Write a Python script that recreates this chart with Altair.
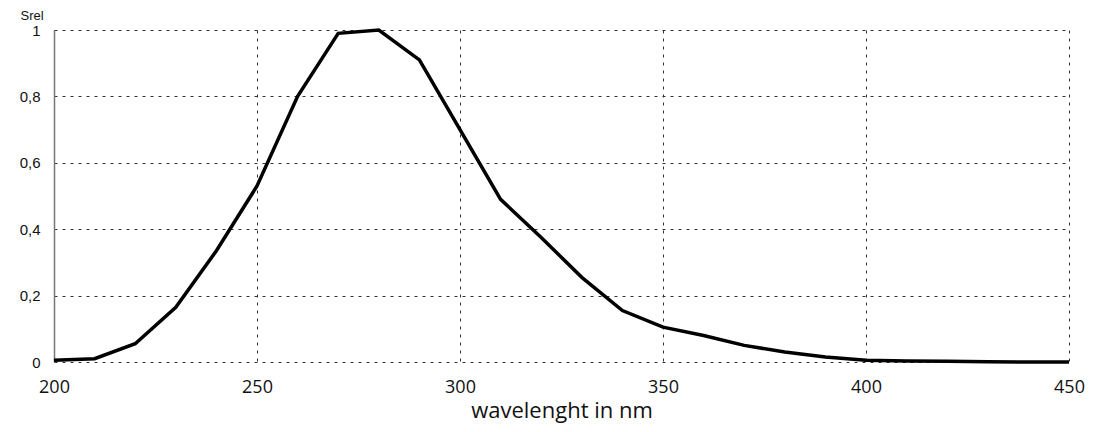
import altair as alt
import pandas as pd

wavelength = [200, 210, 220, 230, 240, 250, 260, 270, 280, 290, 300, 310, 320,
              330, 340, 350, 360, 370, 380, 390, 400, 410, 420, 430, 440, 450]
srel = [0.005, 0.01, 0.055, 0.165, 0.335, 0.53, 0.8, 0.99, 1.0, 0.91, 0.70,
        0.49, 0.375, 0.255, 0.155, 0.105, 0.08, 0.05, 0.03, 0.015, 0.005,
        0.003, 0.002, 0.001, 0.0, 0.0]
x_ticks = [200, 250, 300, 350, 400, 450]
y_ticks = [0, 0.2, 0.4, 0.6, 0.8, 1.0]

df = pd.DataFrame({"wavelength": wavelength, "srel": srel})

chart = alt.Chart(df).mark_line(color="black", strokeWidth=3.5, strokeJoin="miter").encode(
    x=alt.X("wavelength:Q",
            scale=alt.Scale(domain=[200, 450], nice=False, zero=False),
            axis=alt.Axis(values=x_ticks, title="wavelenght in nm", labelFlush=False,
                          labelFont="Open Sans", labelFontSize=18, labelColor="#111",
                          labelPadding=16, titleFont="Open Sans", titleFontSize=22,
                          titleFontWeight="normal", titleColor="#111", titlePadding=4,
                          domain=False, ticks=False,
                          grid=True, gridColor="#333", gridDash=[3, 5], gridWidth=1)),
    y=alt.Y("srel:Q",
            scale=alt.Scale(domain=[0, 1], nice=False),
            axis=alt.Axis(values=y_ticks, title="Srel",
                          labelExpr="replace(format(datum.value, '~g'), '.', ',')",
                          labelFont="Liberation Sans", labelFontSize=15, labelColor="#111",
                          labelPadding=14, titleFont="Liberation Sans", titleFontSize=13,
                          titleFontWeight="normal", titleColor="#111", titleAngle=0,
                          titleAlign="left", titleBaseline="bottom", titleX=-34, titleY=-8,
                          domain=True, domainColor="#777", domainWidth=1.5, ticks=False,
                          grid=True, gridColor="#333", gridDash=[3, 5], gridWidth=1)),
).properties(
    width=1015, height=332,
    autosize=alt.AutoSizeParams(type="none"),
    padding={"left": 46, "top": 22, "right": 16, "bottom": 62},
).configure_view(stroke=None)

chart.save("out.html", embed_options={"renderer": "svg", "actions": False})
